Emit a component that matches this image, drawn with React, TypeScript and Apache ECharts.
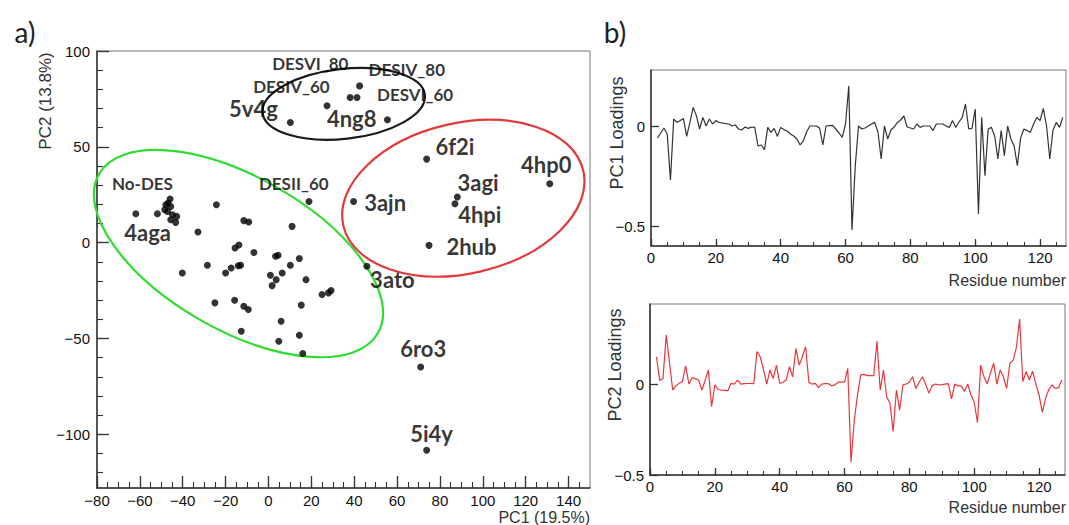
import React, { useEffect, useRef } from "react";
import * as echarts from "echarts";

// ---------- Panel a) PCA scores ----------
const pcaPoints: [number, number][] = [
  [-61.9, 15.1], [-51.8, 15.1], [-45.9, 22.8], [-46.8, 20.7], [-47.9, 19.8], [-45.6, 18.9],
  [-47.1, 16.3], [-44.8, 14.6], [-42.8, 13.7], [-45.6, 12], [-43.3, 10.6], [-48.4, 17.2],
  [-24.3, 19.8], [-11.5, 11.5], [-9.2, 10.8], [-32.9, 5.6], [11, 8.5], [18.9, 21.5],
  [-15.6, -2.8], [-13.8, -1.2], [-6.8, -5.1], [3.3, -7.1], [4.5, -6.6], [14.4, -8.3],
  [-40.2, -15.8], [-28.5, -11.8], [-20, -15.8], [-17.4, -13.2], [-14.1, -12], [-13, -11.8],
  [10.2, -11.8], [0.9, -17], [6.4, -15.8], [3.6, -19.3], [1.7, -22.4], [17.5, -19.3],
  [25, -27], [28, -26.2], [29.2, -25], [-25, -31.4], [-15.8, -30], [-11.5, -33.2],
  [-9.4, -34.9], [15.3, -32.6], [5.9, -41], [-12.7, -46.2], [4.8, -51.4], [14.4, -48.3],
  [16, -57.8],
  [39.7, 21.5], [45.9, -12.3], [74.9, -1.4], [71, -64.9], [73.8, -108.3],
  [42.5, 81.8], [38.1, 75.7], [41.3, 75.7], [27.3, 71.4], [10.2, 62.7], [55.5, 64.1],
  [73.8, 43.6], [131.2, 30.7], [88.1, 23.8], [87, 20.3],
];

// name, x, y, big?
const pointLabels: [string, number, number, boolean][] = [
  ["No-DES", -58.8, 30.7, false],
  ["4aga", -56.4, 5.4, true],
  ["DESII_60", 11.8, 30.7, false],
  ["3ajn", 54.4, 20.7, true],
  ["3ato", 57.8, -19.3, true],
  ["2hub", 94.7, -1.9, true],
  ["6ro3", 72.2, -55.2, true],
  ["5i4y", 76.1, -99.5, true],
  ["6f2i", 87, 50.2, true],
  ["3agi", 97.8, 31.4, true],
  ["4hpi", 98.6, 14.6, true],
  ["4hp0", 129.6, 40.6, true],
  ["4ng8", 38.8, 64.9, true],
  ["5v4g", -7, 70, true],
  ["DESIV_60", 10.7, 81.4, false],
  ["DESVI_80", 19.5, 93.6, false],
  ["DESIV_80", 64.5, 90.1, false],
  ["DESVI_60", 68.4, 77.1, false],
];

// cluster ellipses: centre x, centre y, semi-major, semi-minor (x units), angle (deg)
const ellipses: number[][] = [
  [-14, -5.7, 74.9, 35.7, -29.7],
  [90.9, 23.2, 57.4, 35.1, 12.9],
  [35.1, 72.4, 38.1, 16.3, 6.3],
];
const ellipseColors = ["#2fdc2f", "#e23a3a", "#1a1a1a"];

const pcaXMajor = [-80, -60, -40, -20, 0, 20, 40, 60, 80, 100, 120, 140];
const pcaXMinor = [-80, -75, -70, -65, -60, -55, -50, -45, -40, -35, -30, -25, -20, -15, -10, -5, 0, 5, 10, 15, 20, 25, 30, 35, 40, 45, 50, 55, 60, 65, 70, 75, 80, 85, 90, 95, 100, 105, 110, 115, 120, 125, 130, 135, 140, 145];
const pcaYMajor = [-100, -50, 0, 50, 100];
const pcaYMinor = [-120, -110, -100, -90, -80, -70, -60, -50, -40, -30, -20, -10, 0, 10, 20, 30, 40, 50, 60, 70, 80, 90];

// ---------- Panel b) loadings ----------
const residueStart = 2;
const pc1Loadings = [
  -0.06, -0.035, -0.01, -0.04, -0.27, 0.035, 0.018, 0.027, 0.038, -0.052,
  0.018, 0.093, 0.052, -0.015, 0.043, 0.0, 0.035, 0.01, 0.027, 0.018,
  0.015, 0.012, 0.01, 0.0, 0.005, -0.015, -0.02, -0.005, -0.012, -0.005,
  -0.007, -0.1, -0.095, -0.118, -0.007, -0.032, -0.012, -0.052, -0.007, -0.018,
  -0.025, -0.04, -0.05, -0.065, -0.095, -0.073, -0.03, 0.0, 0.0, 0.0,
  -0.01, -0.095, 0.0, 0.002, 0.003, -0.015, -0.035, -0.057, 0.01, 0.2,
  -0.52, -0.2, 0.0, -0.015, -0.01, 0.0, 0.01, 0.018, -0.03, -0.165,
  0.0, -0.065, -0.02, -0.005, 0.018, 0.03, 0.05, -0.005, -0.01, -0.015,
  0.01, -0.007, 0.0, 0.0, 0.0, -0.023, 0.01, 0.01, 0.01, 0.0,
  -0.007, 0.027, -0.007, 0.02, 0.043, 0.11, -0.015, -0.012, 0.085, -0.44,
  0.043, -0.248, -0.015, -0.007, -0.05, -0.165, -0.023, -0.148, 0.0, -0.065,
  -0.1, -0.198, -0.06, -0.015, -0.023, -0.032, 0.01, 0.043, 0.027, 0.088,
  0.0, -0.165, -0.02, 0.018, -0.007, 0.043,
];
const pc2Loadings = [
  0.15, 0.02, 0.03, 0.27, 0.12, -0.033, -0.01, 0.004, 0.013, 0.1,
  0.0, 0.035, 0.03, 0.022, -0.033, 0.02, 0.077, -0.125, -0.005, -0.03,
  -0.033, -0.035, -0.037, 0.004, 0.0, 0.022, 0.0, 0.002, 0.003, 0.003,
  0.002, 0.178, 0.15, 0.08, 0.0, 0.077, 0.03, 0.104, 0.003, 0.01,
  0.022, 0.095, 0.04, 0.196, 0.104, 0.15, 0.205, 0.01, 0.0, 0.004,
  -0.02, 0.0, 0.003, 0.002, -0.01, -0.005, 0.01, 0.01, 0.01, 0.086,
  -0.43, -0.2, -0.06, 0.05, 0.053, 0.046, 0.046, 0.046, 0.236, -0.033,
  0.077, -0.07, -0.106, -0.26, -0.033, -0.143, -0.005, 0.0, 0.01, 0.04,
  -0.024, 0.01, 0.04, 0.0, -0.05, -0.01, 0.0, -0.005, -0.003, 0.0,
  0.002, -0.082, 0.0, -0.01, -0.01, -0.04, 0.0, -0.06, -0.1, -0.212,
  0.104, 0.04, 0.0, 0.06, 0.114, 0.0, 0.077, 0.04, -0.024, 0.114,
  0.13, 0.2, 0.357, 0.013, 0.068, 0.022, 0.071, 0.0, -0.06, -0.156,
  -0.079, -0.03, -0.005, -0.024, -0.02, 0.022,
];
const resXMajor = [0, 20, 40, 60, 80, 100, 120];
const resXMinor = [0, 5, 10, 15, 20, 25, 30, 35, 40, 45, 50, 55, 60, 65, 70, 75, 80, 85, 90, 95, 100, 105, 110, 115, 120, 125];
const loadYLabels = [-0.5, 0];

const FONT = "'Liberation Sans', Arial, Helvetica, sans-serif";
const LABEL_FONT = "Lato, 'Noto Sans', sans-serif";
const minus = (v: number | string) => String(v).replace("-", "\u2212");

function majorAxis(kind: "x" | "y", gridIndex: number, min: number, max: number, ticks: number[], tickLen: number, labelMargin: number) {
  return {
    type: "value",
    gridIndex,
    min,
    max,
    position: kind === "x" ? "bottom" : "left",
    splitLine: { show: false },
    axisLine: { show: true, onZero: false, lineStyle: { color: "#333", width: 1.5 } },
    axisTick: { show: true, inside: true, length: tickLen, customValues: ticks, lineStyle: { color: "#333", width: 1.3 } },
    axisLabel: {
      show: true,
      customValues: ticks,
      margin: labelMargin,
      fontFamily: FONT,
      fontSize: 15,
      color: "#111",
      formatter: (v: number) => minus(v),
    },
  };
}
function minorAxis(kind: "x" | "y", gridIndex: number, min: number, max: number, ticks: number[], tickLen: number) {
  return {
    type: "value",
    gridIndex,
    min,
    max,
    position: kind === "x" ? "bottom" : "left",
    splitLine: { show: false },
    axisLine: { show: false, onZero: false },
    axisTick: { show: true, inside: true, length: tickLen, customValues: ticks, lineStyle: { color: "#333", width: 1.1 } },
    axisLabel: { show: false },
  };
}

export default function App() {
  const ref = useRef<HTMLDivElement>(null);
  useEffect(() => {
    document.body.style.margin = "0";
    if (!ref.current) return;
    const chart = echarts.init(ref.current, null, { renderer: "svg" });

    const pc1Data = pc1Loadings.map((v, i) => [residueStart + i, v]);
    const pc2Data = pc2Loadings.map((v, i) => [residueStart + i, v]);

    const option: any = {
      animation: false,
      backgroundColor: "#ffffff",
      grid: [
        { left: 97, top: 51, width: 493, height: 437, show: true, borderColor: "#777", borderWidth: 1, backgroundColor: "transparent" },
        { left: 651, top: 70, width: 415, height: 176, show: true, borderColor: "#777", borderWidth: 1, backgroundColor: "transparent" },
        { left: 650, top: 304, width: 415, height: 171, show: true, borderColor: "#777", borderWidth: 1, backgroundColor: "transparent" },
      ],
      xAxis: [
        majorAxis("x", 0, -80, 150, pcaXMajor, 12, 5),
        minorAxis("x", 0, -80, 150, pcaXMinor, 6),
        majorAxis("x", 1, 0, 128, resXMajor, 7, 4),
        minorAxis("x", 1, 0, 128, resXMinor, 4),
        majorAxis("x", 2, 0, 128, resXMajor, 7, 4),
        minorAxis("x", 2, 0, 128, resXMinor, 4),
      ],
      yAxis: [
        majorAxis("y", 0, -128, 100, pcaYMajor, 12, 7),
        minorAxis("y", 0, -128, 100, pcaYMinor, 6),
        majorAxis("y", 1, -0.6, 0.28, loadYLabels, 8, 6),
        majorAxis("y", 2, -0.5, 0.44, loadYLabels, 8, 6),
      ],
      series: [
        {
          type: "custom",
          xAxisIndex: 0,
          yAxisIndex: 0,
          clip: false,
          silent: true,
          data: ellipses,
          renderItem: (params: any, api: any) => {
            const c = api.coord([api.value(0), api.value(1)]);
            const a = api.size([api.value(2), 0])[0];
            const b = api.size([api.value(3), 0])[0];
            return {
              type: "ellipse",
              x: c[0],
              y: c[1],
              rotation: (api.value(4) * Math.PI) / 180,
              shape: { cx: 0, cy: 0, rx: a, ry: b },
              style: { fill: "none", stroke: ellipseColors[params.dataIndex], lineWidth: 2.2 },
            };
          },
        },
        {
          type: "scatter",
          xAxisIndex: 0,
          yAxisIndex: 0,
          symbol: "circle",
          symbolSize: 7,
          itemStyle: { color: "#000" },
          data: pcaPoints,
        },
        {
          type: "scatter",
          xAxisIndex: 0,
          yAxisIndex: 0,
          symbolSize: 0,
          silent: true,
          data: pointLabels.map(([name, x, y, big]) => ({
            name,
            value: [x, y],
            label: {
              show: true,
              position: "inside",
              formatter: name,
              fontFamily: LABEL_FONT,
              fontWeight: "bold",
              fontSize: big ? 22 : 17,
              color: "#000",
            },
          })),
        },
        {
          type: "line",
          xAxisIndex: 2,
          yAxisIndex: 2,
          showSymbol: false,
          data: pc1Data,
          lineStyle: { color: "#333", width: 1.2 },
        },
        {
          type: "line",
          xAxisIndex: 4,
          yAxisIndex: 3,
          showSymbol: false,
          data: pc2Data,
          lineStyle: { color: "#e8383d", width: 1.2 },
        },
      ],
      graphic: [
        { type: "text", x: 25, y: 32, style: { text: "a)", font: "28px Lato, sans-serif", fill: "#222", textAlign: "center", textVerticalAlign: "middle" } },
        { type: "text", x: 615, y: 32, style: { text: "b)", font: "28px Lato, sans-serif", fill: "#222", textAlign: "center", textVerticalAlign: "middle" } },
        { type: "text", x: 45, y: 101, rotation: Math.PI / 2, style: { text: "PC2 (13.8%)", font: `17px ${FONT}`, fill: "#333", textAlign: "center", textVerticalAlign: "middle" } },
        { type: "text", x: 590, y: 517, style: { text: "PC1 (19.5%)", font: `16px ${FONT}`, fill: "#333", textAlign: "right", textVerticalAlign: "middle" } },
        { type: "text", x: 617, y: 133, rotation: Math.PI / 2, style: { text: "PC1 Loadings", font: `18px ${FONT}`, fill: "#333", textAlign: "center", textVerticalAlign: "middle" } },
        { type: "text", x: 615, y: 365, rotation: Math.PI / 2, style: { text: "PC2 Loadings", font: `18px ${FONT}`, fill: "#333", textAlign: "center", textVerticalAlign: "middle" } },
        { type: "text", x: 1066, y: 280, style: { text: "Residue number", font: `16px ${FONT}`, fill: "#333", textAlign: "right", textVerticalAlign: "middle" } },
        { type: "text", x: 1066, y: 507, style: { text: "Residue number", font: `16px ${FONT}`, fill: "#333", textAlign: "right", textVerticalAlign: "middle" } },
      ],
    };
    chart.setOption(option);
    return () => chart.dispose();
  }, []);
  return <div ref={ref} style={{ width: 1069, height: 525 }} />;
}
